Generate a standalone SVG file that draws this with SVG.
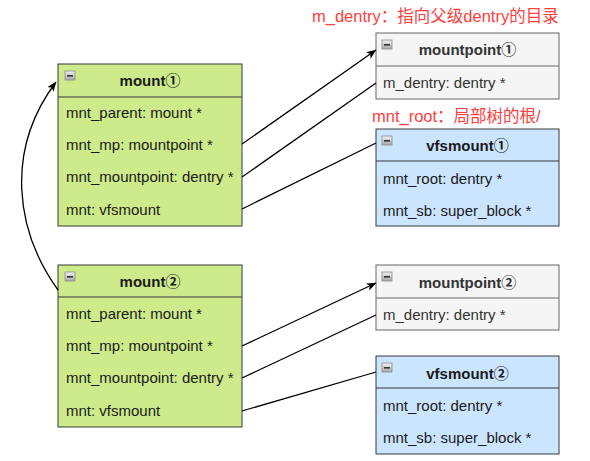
<svg xmlns="http://www.w3.org/2000/svg" width="590" height="461" viewBox="0 0 590 461">
<defs>
<marker id="arr" viewBox="0 0 10 8" refX="9.5" refY="4" markerWidth="10" markerHeight="8" markerUnits="userSpaceOnUse" orient="auto">
<path d="M0,0 L10,4 L0,8 L2.5,4 Z" fill="#000"/>
</marker>
<linearGradient id="ig" x1="0" y1="0" x2="0" y2="1">
<stop offset="0" stop-color="#f2f2f2"/><stop offset="1" stop-color="#a8a8a8"/>
</linearGradient>
<g id="icon">
<rect x="0" y="0" width="10" height="9" fill="url(#ig)" stroke="#8a8a8a" stroke-width="0.8"/>
<rect x="2" y="4" width="6" height="1.6" fill="#333"/>
</g>
</defs>
<style>
text{font-family:"Liberation Sans","Noto Sans CJK SC",Arial,sans-serif;font-size:15px;fill:#1a1a1a}
.t{font-weight:bold;text-anchor:middle}
.g{fill:#cdeb8b;stroke:#36393d;stroke-width:1}
.w{fill:#f5f5f5;stroke:#666;stroke-width:1}
.b{fill:#cce5ff;stroke:#36393d;stroke-width:1}
.gt{fill:#333}
.red{fill:#ff3d3d;font-size:16.5px}
.c{fill:none;stroke:#000;stroke-width:1.3}
</style>

<text class="red" x="312" y="22">m_dentry：指向父级dentry的目录</text>
<text class="red" x="372" y="122">mnt_root：局部树的根/</text>

<g id="mount1">
<rect class="g" x="58" y="64" width="184" height="162"/>
<line class="g" x1="58" y1="97" x2="242" y2="97"/>
<use href="#icon" x="65" y="71"/>
<text class="t" x="150" y="86">mount①</text>
<text x="66" y="118">mnt_parent: mount *</text>
<text x="66" y="150">mnt_mp: mountpoint *</text>
<text x="66" y="182">mnt_mountpoint: dentry *</text>
<text x="66" y="215">mnt: vfsmount</text>
</g>

<g id="mount2">
<rect class="g" x="58" y="265" width="184" height="162"/>
<line class="g" x1="58" y1="297" x2="242" y2="297"/>
<use href="#icon" x="65" y="272"/>
<text class="t" x="150" y="287">mount②</text>
<text x="66" y="319">mnt_parent: mount *</text>
<text x="66" y="351">mnt_mp: mountpoint *</text>
<text x="66" y="383">mnt_mountpoint: dentry *</text>
<text x="66" y="416">mnt: vfsmount</text>
</g>

<g id="mountpoint1">
<rect class="w" x="376" y="33" width="183" height="66"/>
<line class="w" x1="376" y1="66" x2="559" y2="66"/>
<use href="#icon" x="382" y="40"/>
<text class="t gt" x="467.5" y="55">mountpoint①</text>
<text class="gt" x="383" y="88">m_dentry: dentry *</text>
</g>

<g id="vfsmount1">
<rect class="b" x="376" y="129" width="183" height="97"/>
<line class="b" x1="376" y1="161" x2="559" y2="161"/>
<use href="#icon" x="382" y="136"/>
<text class="t" x="467.5" y="151">vfsmount①</text>
<text x="383" y="184">mnt_root: dentry *</text>
<text x="383" y="216">mnt_sb: super_block *</text>
</g>

<g id="mountpoint2">
<rect class="w" x="376" y="265" width="183" height="65"/>
<line class="w" x1="376" y1="298" x2="559" y2="298"/>
<use href="#icon" x="382" y="272"/>
<text class="t gt" x="467.5" y="288">mountpoint②</text>
<text class="gt" x="383" y="320">m_dentry: dentry *</text>
</g>

<g id="vfsmount2">
<rect class="b" x="376" y="356" width="183" height="98"/>
<line class="b" x1="376" y1="388" x2="559" y2="388"/>
<use href="#icon" x="382" y="363"/>
<text class="t" x="467.5" y="379">vfsmount②</text>
<text x="383" y="411">mnt_root: dentry *</text>
<text x="383" y="443">mnt_sb: super_block *</text>
</g>

<g id="connectors">
<path class="c" d="M242,144 L376,50" marker-end="url(#arr)"/>
<path class="c" d="M242,177 L376,83"/>
<path class="c" d="M242,209 L376,143"/>
<path class="c" d="M242,346 L376,283" marker-end="url(#arr)"/>
<path class="c" d="M242,378 L376,315"/>
<path class="c" d="M242,411 L376,372"/>
<path class="c" d="M58,290 C15,230 5,150 56,82" marker-end="url(#arr)"/>
</g>
</svg>
